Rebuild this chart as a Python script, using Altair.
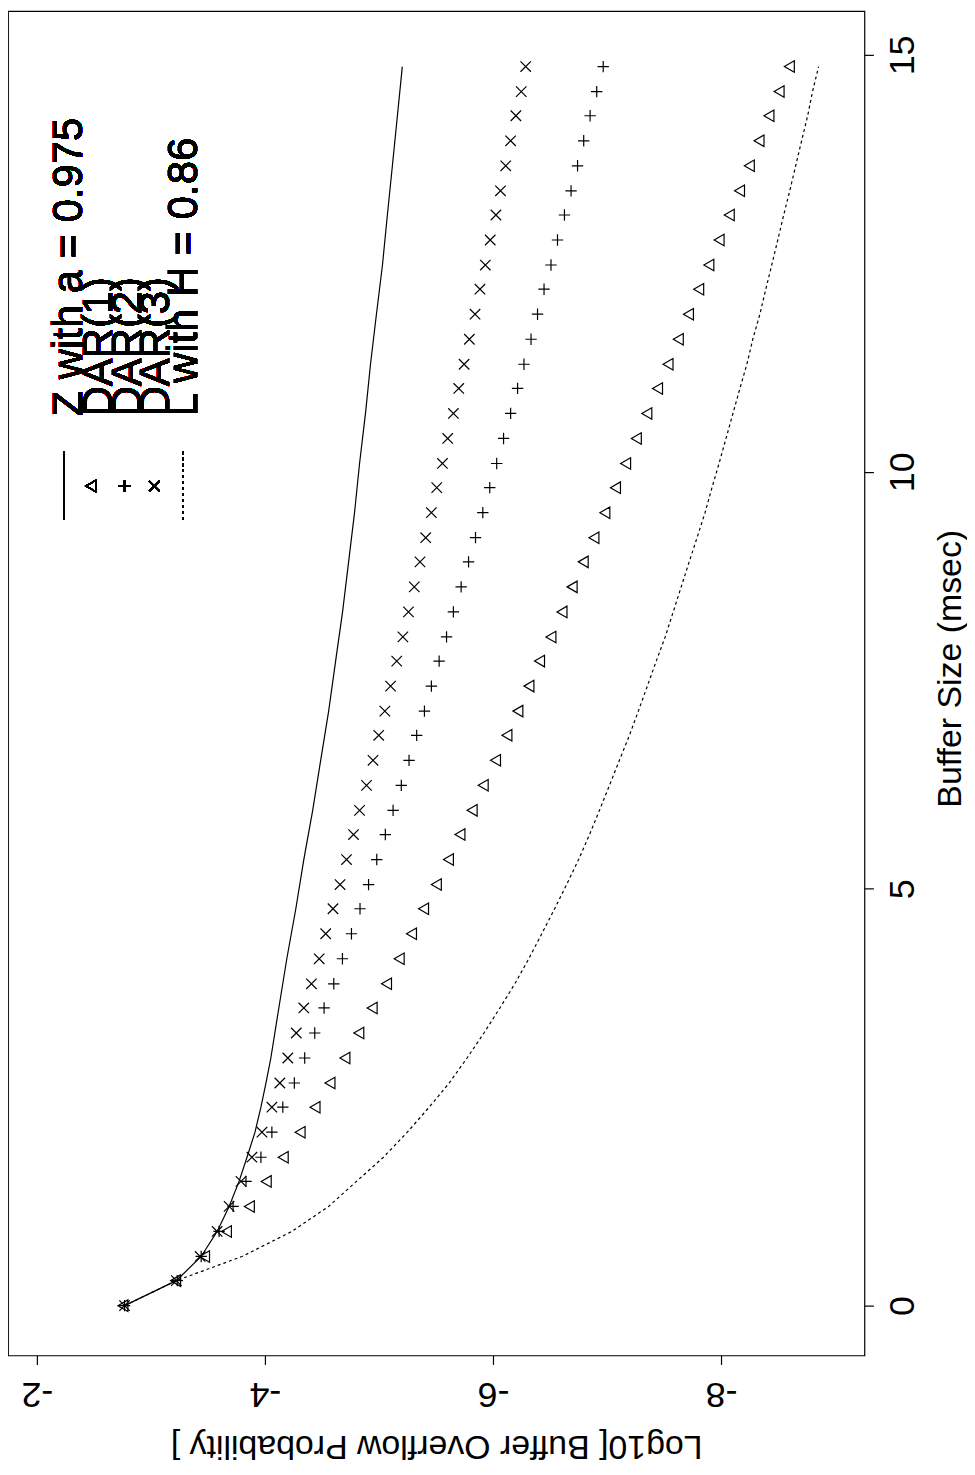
import altair as alt
import pandas as pd

# Buffer sizes (msec) of the simulated points
buffer_msec = [0.00, 0.30, 0.59, 0.89, 1.19, 1.49, 1.78, 2.08, 2.38, 2.67,
               2.97, 3.27, 3.57, 3.86, 4.16, 4.46, 4.76, 5.05, 5.35, 5.65,
               5.94, 6.24, 6.54, 6.84, 7.13, 7.43, 7.73, 8.02, 8.32, 8.62,
               8.92, 9.21, 9.51, 9.81, 10.10, 10.40, 10.70, 11.00, 11.29, 11.59,
               11.89, 12.19, 12.48, 12.78, 13.08, 13.37, 13.67, 13.97, 14.27, 14.56,
               14.86]

# Log10 buffer overflow probability
dar1 = [-2.769, -3.231, -3.485, -3.677, -3.878, -4.026, -4.175, -4.323, -4.454, -4.585,
        -4.716, -4.838, -4.955, -5.081, -5.192, -5.300, -5.406, -5.518, -5.624, -5.725,
        -5.832, -5.929, -6.037, -6.137, -6.233, -6.330, -6.423, -6.523, -6.620, -6.709,
        -6.806, -6.900, -6.996, -7.089, -7.178, -7.272, -7.364, -7.458, -7.550, -7.640,
        -7.729, -7.819, -7.908, -7.998, -8.087, -8.177, -8.263, -8.348, -8.435, -8.524,
        -8.614]
dar2 = [-2.769, -3.231, -3.441, -3.598, -3.721, -3.834, -3.965, -4.061, -4.157, -4.258,
        -4.349, -4.437, -4.519, -4.604, -4.680, -4.759, -4.834, -4.909, -4.981, -5.056,
        -5.124, -5.196, -5.264, -5.331, -5.399, -5.460, -5.528, -5.593, -5.653, -5.721,
        -5.786, -5.847, -5.911, -5.972, -6.033, -6.093, -6.155, -6.216, -6.272, -6.334,
        -6.391, -6.448, -6.509, -6.566, -6.627, -6.685, -6.742, -6.796, -6.852, -6.910,
        -6.967]
dar3 = [-2.769, -3.223, -3.432, -3.581, -3.686, -3.790, -3.886, -3.974, -4.061, -4.131,
        -4.201, -4.275, -4.341, -4.408, -4.476, -4.533, -4.597, -4.659, -4.716, -4.777,
        -4.830, -4.891, -4.948, -4.998, -5.052, -5.102, -5.156, -5.210, -5.259, -5.310,
        -5.360, -5.410, -5.460, -5.507, -5.557, -5.603, -5.653, -5.700, -5.747, -5.793,
        -5.843, -5.886, -5.933, -5.976, -6.026, -6.066, -6.112, -6.155, -6.201, -6.248,
        -6.287]
l_h086 = [-2.769, -3.223, -3.800, -4.236, -4.559, -4.803, -5.039, -5.249, -5.441, -5.616,
          -5.773, -5.921, -6.061, -6.192, -6.314, -6.428, -6.541, -6.646, -6.751, -6.847,
          -6.934, -7.022, -7.109, -7.197, -7.275, -7.354, -7.432, -7.511, -7.581, -7.651,
          -7.721, -7.790, -7.860, -7.921, -7.983, -8.044, -8.105, -8.166, -8.227, -8.279,
          -8.341, -8.393, -8.445, -8.498, -8.550, -8.603, -8.655, -8.707, -8.760, -8.803,
          -8.856]

z_buffer = [0.00, 0.30, 0.59, 0.89, 1.19, 1.49, 1.78, 2.08, 2.38, 2.67,
            2.97, 3.57, 4.16, 4.76, 5.35, 5.94, 6.54, 7.13, 7.73, 8.32,
            8.92, 9.51, 10.10, 10.70, 11.29, 11.89, 12.48, 13.08, 13.67, 14.27,
            14.86]
z_logp = [-2.769, -3.223, -3.441, -3.581, -3.686, -3.773, -3.843, -3.913, -3.965, -4.009,
          -4.052, -4.122, -4.192, -4.271, -4.341, -4.419, -4.489, -4.559, -4.620, -4.681,
          -4.734, -4.786, -4.830, -4.882, -4.926, -4.978, -5.031, -5.074, -5.118, -5.162,
          -5.205]

legend_labels = ["Z with a = 0.975", "DAR(1)", "DAR(2)", "DAR(3)", "L with H = 0.86"]
x_ticks = [-2, -4, -6, -8]
y_ticks = [0, 5, 10, 15]

FONT = "Liberation Sans"
TRI = "M-1,0L0.5,-0.866L0.5,0.866Z"
PLUS = "M-1,0H1M0,-1V1"
CROSS = "M-1,-1L1,1M-1,1L1,-1"

pts = pd.DataFrame({"b": buffer_msec, "d1": dar1, "d2": dar2, "d3": dar3, "L": l_h086})
zdf = pd.DataFrame({"b": z_buffer, "z": z_logp})

xs = alt.Scale(domain=[-1.7467, -9.258], nice=False, zero=False)
ys = alt.Scale(domain=[-0.597, 15.526], nice=False, zero=False)

x_axis = alt.Axis(values=x_ticks, labelExpr="'' + datum.value", grid=False, domain=False,
                  tickSize=9, tickColor="black", tickWidth=1.2,
                  labelAngle=180, labelAlign="center", labelBaseline="alphabetic",
                  labelPadding=18, labelFont=FONT, labelFontSize=36, labelColor="black",
                  title="Log10[ Buffer Overflow Probability ]", titleFont=FONT,
                  titleFontSize=34, titleFontWeight="normal", titleColor="black",
                  titleAngle=180, titleBaseline="alphabetic", titleAlign="center",
                  titleX=430, titleY=80)
y_axis = alt.Axis(values=y_ticks, orient="right", grid=False, domain=False,
                  tickSize=9, tickColor="black", tickWidth=1.2,
                  labelAngle=270, labelAlign="center", labelBaseline="alphabetic",
                  labelPadding=40, labelFont=FONT, labelFontSize=36, labelColor="black",
                  title="Buffer Size (msec)", titleFont=FONT, titleFontSize=34,
                  titleFontWeight="normal", titleColor="black",
                  titleAngle=270, titleBaseline="alphabetic", titleAlign="center",
                  titleX=96, titleY=660)

def pt_layer(field, shape, size):
    return alt.Chart(pts).mark_point(shape=shape, size=size, filled=False,
                                     color="black", strokeWidth=1.2, opacity=1).encode(
        x=alt.X(f"{field}:Q", scale=xs, axis=x_axis),
        y=alt.Y("b:Q", scale=ys, axis=y_axis))

z_line = alt.Chart(zdf).mark_line(color="black", strokeWidth=1.2).encode(
    x=alt.X("z:Q", scale=xs, axis=x_axis),
    y=alt.Y("b:Q", scale=ys, axis=y_axis),
    order="b:Q")
l_line = alt.Chart(pts).mark_line(color="black", strokeWidth=1.2, strokeDash=[3, 3]).encode(
    x=alt.X("L:Q", scale=xs, axis=x_axis),
    y=alt.Y("b:Q", scale=ys, axis=y_axis),
    order="b:Q")

layers = [z_line, l_line, pt_layer("d1", TRI, 178), pt_layer("d2", PLUS, 130),
          pt_layer("d3", CROSS, 110)]

# legend (rotated, inside the plot)
leg_text_x = [74, 104, 134, 162, 190]
for lab, lx in zip(legend_labels, leg_text_x):
    layers.append(alt.Chart(pts).mark_text(angle=270, align="left", baseline="alphabetic",
                                           font=FONT, fontSize=42, color="black").encode(
        x=alt.value(lx), y=alt.value(407), text=alt.value(lab)))
layers.append(alt.Chart(pts).mark_rule(color="black", strokeWidth=1.2).encode(
    x=alt.value(56), y=alt.value(442), y2=alt.value(511)))
layers.append(alt.Chart(pts).mark_rule(color="black", strokeWidth=1.2, strokeDash=[3, 3]).encode(
    x=alt.value(176), y=alt.value(442), y2=alt.value(511)))
for shp, sz, lx in [(TRI, 178, 85), (PLUS, 130, 117), (CROSS, 110, 147)]:
    layers.append(alt.Chart(pts).mark_point(shape=shp, size=sz, filled=False, color="black",
                                            strokeWidth=1.2, opacity=1).encode(
        x=alt.value(lx), y=alt.value(477)))

chart = alt.layer(*layers).properties(
    width=860, height=1350,
    padding={"left": 0, "top": 0, "right": 0, "bottom": 5},
    background="white").configure_view(stroke="black", strokeWidth=1.2)

chart.save("out.html", embed_options={"renderer": "svg", "actions": False})
